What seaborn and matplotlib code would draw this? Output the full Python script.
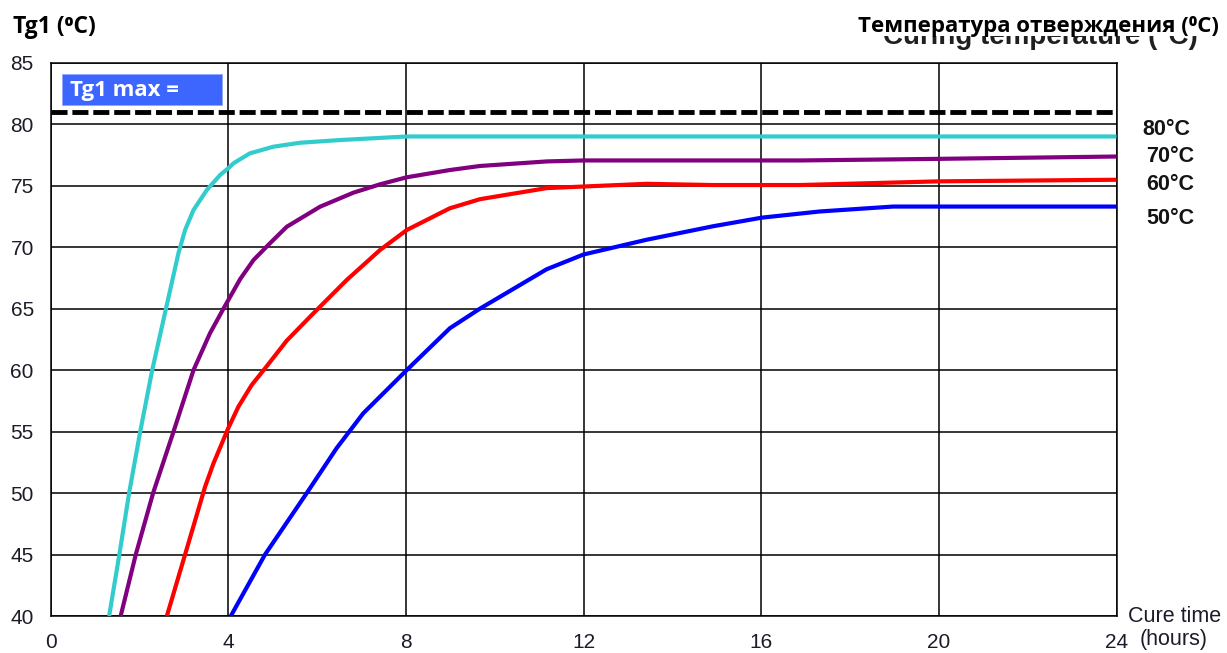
import numpy as np
import pandas as pd
import matplotlib
matplotlib.use("Agg")
import matplotlib.pyplot as plt
from matplotlib.patches import Rectangle
from matplotlib.transforms import Bbox, TransformedBbox
import seaborn as sns

# ---------------- data ----------------
t_80 = [1.32, 1.55, 1.77, 2.02, 2.29, 2.60, 2.88, 3.03, 3.22, 3.52, 3.82, 4.0, 4.12, 4.49, 5.02, 5.62, 6.52, 8.02, 12, 16, 20, 24]
v_80 = [40, 45, 50, 55, 60, 65, 69.5, 71.39, 73.02, 74.65, 75.87, 76.41, 76.82, 77.63, 78.17, 78.49, 78.71, 79.0, 79.0, 79.0, 79.0, 79.0]

t_70 = [1.58, 1.92, 2.31, 2.77, 3.22, 3.59, 3.89, 4.27, 4.57, 4.94, 5.32, 6.07, 6.82, 7.42, 8.02, 8.99, 9.67, 11.17, 12.0, 14, 16.9, 20, 24]
v_70 = [40, 45, 50, 55, 60, 62.99, 64.97, 67.4, 68.95, 70.31, 71.66, 73.29, 74.43, 75.11, 75.68, 76.27, 76.6, 76.97, 77.05, 77.05, 77.05, 77.18, 77.37]

t_60 = [2.62, 3.03, 3.48, 3.67, 3.89, 4.0, 4.23, 4.53, 4.83, 5.32, 5.92, 6.67, 7.42, 8.02, 8.99, 9.67, 11.17, 12.0, 13.42, 14.92, 16.87, 20, 24]
v_60 = [40, 45, 50.51, 52.42, 54.31, 55.26, 57.02, 58.79, 60.14, 62.4, 64.62, 67.33, 69.77, 71.39, 73.16, 73.9, 74.8, 74.93, 75.15, 75.05, 75.05, 75.35, 75.48]

t_50 = [4.06, 4.83, 5.77, 6.44, 7.04, 8.02, 8.99, 9.67, 11.17, 12.0, 13.42, 14.92, 16.02, 17.32, 18.97, 20, 24]
v_50 = [40, 45, 50, 53.64, 56.48, 60.0, 63.4, 65.0, 68.2, 69.4, 70.6, 71.7, 72.4, 72.9, 73.3, 73.3, 73.3]

series_labels = ["80°C", "70°C", "60°C", "50°C"]
tg1_max = 81
x_ticks = [0, 4, 8, 12, 16, 20, 24]
y_ticks = [40, 45, 50, 55, 60, 65, 70, 75, 80, 85]

title_left = "Tg1 (⁰C)"
title_right = "Температура отверждения (⁰C)"
title_hidden = "Curing temperature (°C)"
box_text = "Tg1 max ="
x_unit_1 = "Cure time"
x_unit_2 = "(hours)"

# ---------------- build table ----------------
frames = []
for lab, tt, vv in zip(series_labels, [t_80, t_70, t_60, t_50], [v_80, v_70, v_60, v_50]):
    frames.append(pd.DataFrame({"t": tt, "v": vv, "series": lab}))
df = pd.concat(frames, ignore_index=True)

colors = {"80°C": "#33CCCC", "70°C": "#800080", "60°C": "#FF0000", "50°C": "#0000FF"}

sns.set_style("white")
plt.rcParams["font.family"] = ["Liberation Sans", "DejaVu Sans"]

W, H = 1227, 653
fig = plt.figure(figsize=(W / 100, H / 100), dpi=100)
ax = fig.add_axes([50.5 / W, (H - 616) / H, 1066 / W, (616 - 62.7) / H])

sns.lineplot(data=df, x="t", y="v", hue="series", palette=colors, sort=False,
             legend=False, linewidth=3.0, ax=ax, zorder=3)
for ln in ax.lines:
    ln.set_solid_joinstyle("round")
    ln.set_solid_capstyle("butt")

ax.axhline(tg1_max, color="black", linewidth=3.5, linestyle=(0, (3.3, 1.0)),
           zorder=4, clip_on=False, dash_capstyle="butt")

ax.set_xlim(0, 24)
ax.set_ylim(40, 85)
ax.set_xticks(x_ticks)
ax.set_yticks(y_ticks)
ax.grid(True, color="black", linewidth=1.1)
ax.set_axisbelow(True)
for s in ax.spines.values():
    s.set_color("black")
    s.set_linewidth(1.1)
ax.tick_params(axis="both", which="major", direction="out", length=6, width=1.1,
               color="black", labelsize=15, labelcolor="#1c1c28")
ax.tick_params(axis="y", pad=6)
ax.tick_params(axis="x", pad=6)
ax.set_xlabel("")
ax.set_ylabel("")

# blue "Tg1 max =" box
ax.add_patch(Rectangle((0.27, 81.56), 3.6, 2.55, facecolor="#3D66FF",
                       edgecolor="#8FA8FF", linewidth=0.6, zorder=5))
ax.text(0.45, 82.7, box_text, color="white", fontsize=16, fontweight="bold",
        family=["Open Sans", "DejaVu Sans"], va="center", ha="left", zorder=6)

# right side series labels
label_y_px = {"80°C": 129.5, "70°C": 157, "60°C": 185, "50°C": 219}
label_x_px = {"80°C": 1142.5, "70°C": 1146.5, "60°C": 1146.5, "50°C": 1146.5}
for lab in series_labels:
    fig.text(label_x_px[lab] / W, 1 - label_y_px[lab] / H, lab, fontsize=15.5,
             fontweight="bold", color="#141414", ha="left", va="center")

# x unit text
fig.text(1128 / W, 1 - 617 / H, x_unit_1, fontsize=15.5, color="#1c1c28",
         ha="left", va="center")
fig.text(1140 / W, 1 - 640 / H, x_unit_2, fontsize=15.5, color="#1c1c28",
         ha="left", va="center")

# titles
fig.text(12.7 / W, 1 - 33.3 / H, title_left, fontsize=16.5, fontweight="bold",
         family=["Open Sans", "DejaVu Sans"], ha="left", va="baseline", color="black")

hidden = fig.text(1198 / W, 1 - 43.5 / H, title_hidden, fontsize=20, fontweight="bold",
                  ha="right", va="baseline", color="#202020")
hidden.set_clip_box(TransformedBbox(Bbox([[860 / W, 0.0], [1.0, 1 - 36.0 / H]]),
                                    fig.transFigure))
hidden.set_clip_on(True)

fig.text(1219 / W, 1 - 32.3 / H, title_right, fontsize=16, fontweight="bold",
         family=["Open Sans", "DejaVu Sans"], ha="right", va="baseline",
         color="black", zorder=3)

fig.savefig("out.png", dpi=100)
